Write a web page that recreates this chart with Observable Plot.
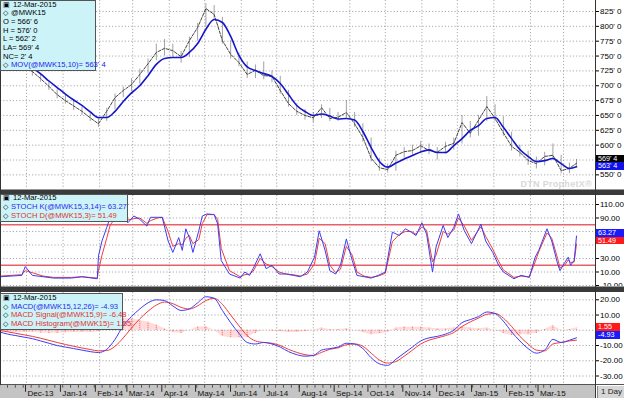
<!DOCTYPE html>
<html><head><meta charset="utf-8">
<script src="https://cdn.jsdelivr.net/npm/d3@7"></script>
<script src="https://cdn.jsdelivr.net/npm/@observablehq/plot@0.6"></script>
<style>
html,body{margin:0;padding:0;background:#fff;}
#wrap{position:relative;width:624px;height:398px;overflow:hidden;font-family:"Liberation Sans Narrow","Arial Narrow",Arial,sans-serif;}
.panel{position:absolute;left:0;}
.panel svg{display:block;}
.legend{position:absolute;left:0;background:#ccf4f8;border:1px solid #555;box-sizing:border-box;font-size:7.6px;color:#000;white-space:nowrap;}
.legend div{position:absolute;left:2px;line-height:8.7px;height:8.7px;}
.legend .ic{color:#000;font-size:6.5px;margin-right:3px;}
.vbox{position:absolute;left:596px;height:7.5px;font-size:7.2px;line-height:7.5px;color:#fff;padding-left:2px;box-sizing:border-box;}
.band{position:absolute;left:0;width:624px;}
</style></head>
<body>
<div id="wrap">
  <div id="p1" class="panel" style="top:0px"></div>
  <div id="p2" class="panel" style="top:195px"></div>
  <div id="p3" class="panel" style="top:292px"></div>
  <div id="p4" class="panel" style="top:385px;background:#c4c4c4;width:596px;height:13px"></div>
  <div class="band" style="top:189px;height:1px;background:#9a9a9a"></div>
  <div class="band" style="top:190px;height:5px;background:#3a3a3a"></div>
  <div class="band" style="top:286px;height:1px;background:#9a9a9a"></div>
  <div class="band" style="top:287px;height:5px;background:#3a3a3a"></div>
  <div class="band" style="top:384px;height:1px;background:#555"></div>
  <div style="position:absolute;left:595px;top:0;width:1px;height:398px;background:#333"></div>
  <div style="position:absolute;left:0;top:0;width:1px;height:385px;background:#333"></div>
  <div style="position:absolute;left:597px;top:386px;width:27px;height:12px;background:#d6d6d6;border-left:1px solid #888;font-size:8px;line-height:12px;text-align:center;color:#222">1 Day</div>
  <div style="position:absolute;left:480px;top:179px;width:112px;text-align:right;font:bold 9px Arial, sans-serif;color:#d8d8d8;letter-spacing:0.3px">DTN ProphetX®</div>
</div>
<script>
// ---------- DATA ----------
const priceDates = ["2013-11-08","2013-11-15","2013-11-22","2013-11-29","2013-12-06","2013-12-13","2013-12-20","2013-12-27",
 "2014-01-03","2014-01-10","2014-01-17","2014-01-24","2014-01-31","2014-02-07","2014-02-14","2014-02-21","2014-02-28",
 "2014-03-07","2014-03-14","2014-03-21","2014-03-28","2014-04-04","2014-04-11","2014-04-18","2014-04-25",
 "2014-05-02","2014-05-09","2014-05-16","2014-05-23","2014-05-30","2014-06-06","2014-06-13","2014-06-20","2014-06-27",
 "2014-07-04","2014-07-11","2014-07-18","2014-07-25","2014-08-01","2014-08-08","2014-08-15","2014-08-22","2014-08-29",
 "2014-09-05","2014-09-12","2014-09-19","2014-09-26","2014-10-03","2014-10-10","2014-10-17","2014-10-24","2014-10-31",
 "2014-11-07","2014-11-14","2014-11-21","2014-11-28","2014-12-05","2014-12-12","2014-12-19","2014-12-26",
 "2015-01-02","2015-01-09","2015-01-16","2015-01-23","2015-01-30","2015-02-06","2015-02-13","2015-02-20","2015-02-27",
 "2015-03-06","2015-03-12"];
const priceClose = [752,745,738,730,724,712,699,685,
 675,666,657,646,636,657,680,692,702,
 719,737,756,763,759,749,776,798,
 830,820,776,753,739,719,726,717,716,
 692,670,657,650,646,663,645,647,655,
 636,613,578,562,559,583,589,591,599,
 591,588,598,603,638,620,642,665,
 645,621,598,588,574,569,581,583,557,
 561,569.5];
const priceHigh = [760,753,746,738,731,721,708,693,
 684,675,664,655,645,662,686,698,712,
 728,745,770,778,770,758,782,805,
 838,835,815,776,755,740,735,740,725,
 716,692,670,660,655,668,662,655,675,
 655,636,612,578,568,590,596,600,606,
 602,596,605,612,650,640,650,682,
 668,648,622,600,590,580,588,602,583,
 570,576];
const priceLow = [745,738,731,724,716,706,692,678,
 669,658,650,640,630,640,660,680,690,
 703,720,742,750,748,738,748,775,
 800,812,770,745,732,712,712,710,705,
 686,664,650,642,638,645,640,640,645,
 630,605,572,556,553,556,578,583,588,
 584,575,585,592,602,612,615,640,
 640,615,590,580,566,560,565,575,552,
 552,562.25];
const movAvg10 = [762,754,746,738,730,720,708,697,
 686,676,667,656,646.5,646.5,657,673.5,688,
 700,717,736,746,747.6,747.6,756,771,
 795,811.5,806.5,783,751,731.6,725.7,720.6,715.6,
 703.8,685.3,666.8,656.7,650,652.4,649,644,645,
 642.3,623,596,572.5,563,570,576.7,582.6,588.5,
 592,587.6,587.6,599.4,611,624.7,633,645,
 646.5,630,611,592.7,581,572.5,574,577.5,569,
 560.7,563.5];
const macdLine = [-1,-2.5,-3.5,-4.5,-5.5,-7,-8.5,-10,
 -11,-12,-13,-14,-14.6,-12.5,-6,3,9,
 14,18,20,19.5,16,13,14,18,
 22,21,13,5,-2,-8,-9,-8,-9,
 -11,-14,-16,-17,-16.5,-13,-12,-11,-8.5,
 -9,-12,-18,-22,-23,-19,-15,-11,-7,
 -5,-4,-2.5,0,5,7,9,12,
 11,6,-1,-7,-12,-15,-13,-6,-8,
 -6.5,-4.93];
const macdSignal = [0,-1,-2,-3,-4,-5.2,-6.6,-8,
 -9.3,-10.5,-11.6,-12.6,-13.5,-13.3,-10.5,-5,1.5,
 7.5,12.5,16.5,18.5,17.5,15,14,16,
 19.5,21,17,10,3,-3.5,-7,-8,-8.5,
 -10,-12.5,-14.5,-16,-16.5,-14.5,-12.5,-11.5,-9.5,
 -9,-10.5,-15,-19.5,-21.5,-20.5,-17,-13,-9,
 -6.5,-5,-3.5,-1.5,2.5,5.5,8,10.5,
 11,8,2.5,-4,-9,-13,-13.5,-9,-8,
 -7,-6.48];
const macdHist = [-1,-1.5,-1.5,-1.5,-1.5,-1.8,-1.9,-2,
 -1.7,-1.5,-1.4,-1.4,-1.1,0.8,4.5,8,7.5,
 6.5,5.5,3.5,1,-1.5,-2,0,2,
 2.5,0,-4,-5,-5,-4.5,-2,0,-0.5,
 -1,-1.5,-1.5,-1,0,1.5,0.5,0.5,1,
 0,-1.5,-3,-2.5,-1.5,1.5,2,2,2,
 1.5,1,1,1.5,2.5,1.5,1,1.5,
 0,-2,-3.5,-3,-3,-2,0.5,3,0,
 0.5,1.55];

const stochDates = ["2013-11-09","2013-11-27","2013-11-30","2013-12-06","2013-12-15","2013-12-24","2014-01-08","2014-01-17","2014-01-30","2014-01-31",
 "2014-02-03","2014-02-07","2014-02-10","2014-02-16","2014-02-25","2014-03-02","2014-03-07","2014-03-13","2014-03-16","2014-03-22",
 "2014-03-26","2014-03-31","2014-04-04","2014-04-09","2014-04-12","2014-04-15","2014-04-18","2014-04-21","2014-04-26","2014-04-29",
 "2014-05-03","2014-05-09","2014-05-12","2014-05-15","2014-05-22","2014-05-31","2014-06-04","2014-06-08","2014-06-11","2014-06-17",
 "2014-06-22","2014-06-27","2014-07-03","2014-07-09","2014-07-15","2014-07-21","2014-07-27","2014-08-02","2014-08-06","2014-08-11",
 "2014-08-15","2014-08-20","2014-08-24","2014-08-29","2014-09-03","2014-09-07","2014-09-13","2014-09-19","2014-09-25","2014-10-01",
 "2014-10-07","2014-10-13","2014-10-18","2014-10-23","2014-10-27","2014-11-01","2014-11-05","2014-11-10","2014-11-13","2014-11-19",
 "2014-11-23","2014-11-28","2014-12-02","2014-12-07","2014-12-13","2014-12-21","2014-12-25","2014-12-31","2015-01-05","2015-01-09",
 "2015-01-18","2015-01-24","2015-01-31","2015-02-05","2015-02-08","2015-02-15","2015-02-19","2015-02-24","2015-02-26","2015-03-02",
 "2015-03-05","2015-03-07","2015-03-10","2015-03-12"];
const stochK = [3,5,18,5,3,1,1,3,0,34,
 56,76,91,96,83,93,88,78,91,91,
 91,56,39,61,42,74,61,39,71,93,
 96,95,81,27,7,1,10,5,15,37,
 15,20,7,7,5,3,10,32,71,42,
 12,7,20,59,27,5,3,1,5,10,
 69,64,74,69,64,83,66,10,47,79,
 61,76,96,71,52,81,56,39,20,10,
 0,5,2,32,42,74,56,22,12,24,
 32,20,27,63.27];
const stochD = [4,6,12,9,4,2,2,3,1,12,
 35,60,80,93,87,89,90,82,86,90,
 91,70,48,52,50,60,64,52,58,82,
 95,95,88,45,12,3,6,7,11,30,
 22,18,10,7,6,4,7,22,60,52,
 20,9,14,48,35,10,4,2,4,8,
 55,66,70,70,66,77,72,25,35,70,
 66,72,90,78,57,77,63,44,26,13,
 2,4,3,25,40,68,60,30,16,20,
 28,24,25,51.49];

const monthTicks = ["2013-12-01","2014-01-01","2014-02-01","2014-03-01","2014-04-01","2014-05-01","2014-06-01","2014-07-01",
 "2014-08-01","2014-09-01","2014-10-01","2014-11-01","2014-12-01","2015-01-01","2015-02-01","2015-03-01"];
const priceTicks = [550,575,600,625,650,675,700,725,750,775,800,825];
const priceTickLabels = [550,600,625,650,675,700,725,750,775,800,825];   // 575 sits under the value boxes
const stochTicks = [-10,10,30,50,70,90,110];
const stochTickLabels = [-10,10,30,90,110];                               // 50, 70 sit under the value boxes
const stochLevels = [20,80];
const macdTicks = [-30,-20,-10,0,10,20];
const macdTickLabels = [-30,-20,-10,10,20];                               // 0 sits under the value boxes

const legendDate = "12-Mar-2015";
const symbol = "@MWK15";
const legendOHLC = ["O = 566' 6","H = 576' 0","L = 562' 2","LA= 569' 4","NC= 2' 4"];

// ---------- BUILD ----------
const toDate = s => new Date(s + "T00:00:00Z");
const P = priceDates.map((d,i)=>({date:toDate(d), close:priceClose[i], high:priceHigh[i], low:priceLow[i], ma:movAvg10[i],
  macd:macdLine[i], signal:macdSignal[i], hist:macdHist[i]}));
const S = stochDates.map((d,i)=>({date:toDate(d), k:stochK[i], d:stochD[i]}));
const months = monthTicks.map(toDate);
const xDomain = [toDate("2013-11-09"), new Date("2015-03-28T02:00:00Z")];
const FONT = "'Liberation Sans Narrow','Arial Narrow',Arial,sans-serif";
const common = {width:624, marginLeft:0, marginRight:29, marginTop:0, marginBottom:0,
  x:{type:"utc", domain:xDomain, axis:null},
  style:{fontFamily:FONT, fontSize:"8px", background:"transparent", color:"#000", overflow:"visible"}};
const gridStyle = {stroke:"#8a8a8a", strokeOpacity:0.9, strokeDasharray:"1.2,2", strokeWidth:0.8};
const eighths = v => { const w = Math.floor(v); return `${w}' ${Math.round((v-w)*8)}`; };
const axis = (ticks, fmt) => Plot.axisY({anchor:"right", ticks, tickFormat:fmt, tickSize:3, tickPadding:1.5, fontSize:8, label:null, stroke:"#000"});

const p1 = Plot.plot({...common, height:190, y:{domain:[523.7,843.5], axis:null},
  marks:[
    Plot.ruleY(priceTicks, {y:d=>d, ...gridStyle}),
    Plot.ruleX(months, {x:d=>d, ...gridStyle}),
    Plot.ruleX(P, {x:"date", y1:"low", y2:"high", stroke:"#555", strokeWidth:1, strokeOpacity:0.55, clip:true}),
    Plot.lineY(P, {x:"date", y:"close", stroke:"#444", strokeWidth:1, strokeDasharray:"3,1.5", clip:true}),
    Plot.lineY(P, {x:"date", y:"ma", stroke:"#1515cc", strokeWidth:1.6, curve:"monotone-x", clip:true}),
    axis(priceTickLabels, d=>`${d}' 0`)
  ]});
document.getElementById("p1").append(p1);

const p2 = Plot.plot({...common, height:92, y:{domain:[-12.96,123.33], axis:null},
  marks:[
    Plot.ruleY(stochTicks, {y:d=>d, ...gridStyle}),
    Plot.ruleX(months, {x:d=>d, ...gridStyle}),
    Plot.ruleY(stochLevels, {y:d=>d, stroke:"#e8606a", strokeWidth:1.5}),
    Plot.lineY(S, {x:"date", y:"d", stroke:"#f03c3c", strokeWidth:1, clip:true}),
    Plot.lineY(S, {x:"date", y:"k", stroke:"#3c3cf5", strokeWidth:1, clip:true}),
    axis(stochTickLabels, d=>d.toFixed(2))
  ]});
document.getElementById("p2").append(p2);

const p3 = Plot.plot({...common, height:93, y:{domain:[-36.23,24.79], axis:null},
  marks:[
    Plot.ruleY(macdTicks, {y:d=>d, ...gridStyle}),
    Plot.ruleX(months, {x:d=>d, ...gridStyle}),
    Plot.areaY(P, {x:"date", y1:0, y2:"hist", fill:"#ff8a8a", fillOpacity:0.3, clip:true}),
    Plot.ruleX(P, {x:"date", y1:0, y2:"hist", stroke:"#ff6a6a", strokeWidth:1.2, strokeDasharray:"1,1", clip:true}),
    Plot.lineY(P, {x:"date", y:"signal", stroke:"#f03c3c", strokeWidth:1, curve:"monotone-x", clip:true}),
    Plot.lineY(P, {x:"date", y:"macd", stroke:"#3c3cf5", strokeWidth:1, curve:"monotone-x", clip:true}),
    axis(macdTickLabels, d=>d.toFixed(2))
  ]});
document.getElementById("p3").append(p3);

const fmtMonth = d3.utcFormat("%b-%y");
const p4 = Plot.plot({...common, height:13, y:{domain:[0,1], axis:null},
  marks:[
    Plot.ruleX(P, {x:"date", y1:1, y2:0.78, stroke:"#333", strokeWidth:0.8, clip:true}),
    Plot.ruleX(months, {x:d=>d, y1:1, y2:0.45, stroke:"#222", strokeWidth:1}),
    Plot.text(months, {x:d=>d, y:0.38, text:d=>fmtMonth(d), textAnchor:"start", dx:2, fontSize:8.5, fill:"#111"})
  ]});
document.getElementById("p4").append(p4);

// ---------- LEGENDS & VALUE BOXES ----------
const wrap = document.getElementById("wrap");
function legend(top, width, height, lines){
  const box = document.createElement("div");
  box.className = "legend";
  Object.assign(box.style, {top:top+"px", width:width+"px", height:height+"px"});
  lines.forEach(l=>{
    const el = document.createElement("div");
    el.style.top = l.y + "px";
    if (l.icon) { const ic = document.createElement("span"); ic.className = "ic"; ic.textContent = l.icon; el.append(ic); }
    const tx = document.createElement("span"); tx.textContent = l.t; tx.style.color = l.c || "#000";
    el.append(tx);
    box.append(el);
  });
  wrap.append(box);
}
const last = a => a[a.length-1];
const LS = 8.7;
legend(0, 96, 71, [
  {icon:"▣", t:legendDate, y:-0.5},
  {icon:"◇", t:symbol, y:-0.5 + LS},
  ...legendOHLC.map((t,i)=>({t, y:-0.5 + (i+2)*LS})),
  {icon:"◇", t:`MOV(${symbol},10)= ${eighths(last(movAvg10))}`, y:-0.5 + 7*LS, c:"#2222ee"}
]);
legend(194, 128, 28, [
  {icon:"▣", t:legendDate, y:-1},
  {icon:"◇", t:`STOCH K(${symbol},3,14)= ${last(stochK).toFixed(2)}`, y:8, c:"#2a2aee"},
  {icon:"◇", t:`STOCH D(${symbol},3)= ${last(stochD).toFixed(2)}`, y:17, c:"#e03030"}
]);
legend(293, 123, 37, [
  {icon:"▣", t:legendDate, y:0},
  {icon:"◇", t:`MACD(${symbol},12,26)= ${last(macdLine).toFixed(2)}`, y:LS, c:"#2a2aee"},
  {icon:"◇", t:`MACD Signal(${symbol},9)= ${last(macdSignal).toFixed(2)}`, y:2*LS, c:"#e03030"},
  {icon:"◇", t:`MACD Histogram(${symbol})= ${last(macdHist).toFixed(2)}`, y:3*LS, c:"#e03030"}
]);
function vbox(top, width, bg, text){
  const el = document.createElement("div");
  el.className = "vbox"; el.textContent = text;
  Object.assign(el.style, {top:top+"px", width:width+"px", background:bg});
  wrap.append(el);
}
vbox(154.5, 28, "#000", eighths(last(priceClose)));
vbox(162, 28, "#1010e8", eighths(last(movAvg10)));
vbox(229, 28, "#1a1aff", last(stochK).toFixed(2));
vbox(236.5, 28, "#ff1a1a", last(stochD).toFixed(2));
vbox(323, 24, "#ff1a1a", last(macdHist).toFixed(2));
vbox(331, 24, "#1a1aff", last(macdLine).toFixed(2));
</script>
</body></html>
